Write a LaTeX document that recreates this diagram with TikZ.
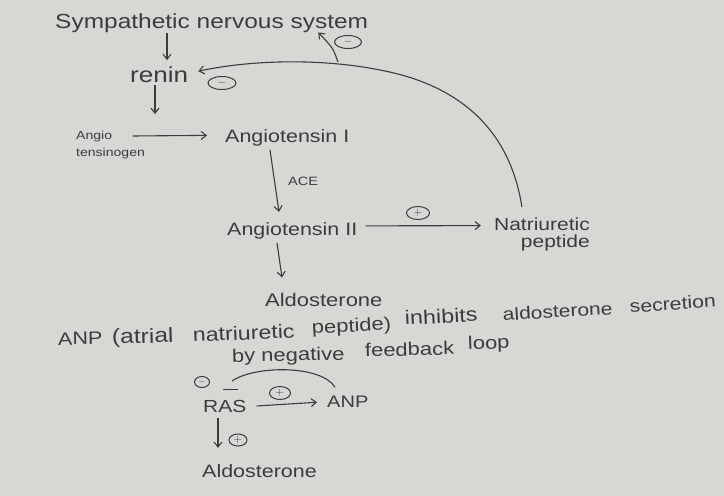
\documentclass[tikz,border=0pt]{standalone}
\usepackage{fontspec}
\setmainfont[FakeStretch=1.2]{Liberation Sans}
\usetikzlibrary{arrows.meta,shapes.geometric,calc}
\definecolor{paper}{HTML}{D9D7D4}
\definecolor{ink}{HTML}{3C3C3C}
\newcommand{\fs}[1]{\fontsize{#1}{#1}\selectfont}
\begin{document}
\begin{tikzpicture}[x=1pt,y=-1pt,
  txt/.style={inner sep=0pt, text=ink, anchor=base west},
  arr/.style={draw=ink, line width=1.1pt, -{Straight Barb[length=5pt,width=8pt]}},
  ln/.style={draw=ink, line width=1.1pt},
  sgn/.style={ellipse, draw=ink, line width=1pt, inner sep=0pt, text=ink,
    minimum width=#1, minimum height=13pt, font=\fs{11}},
  sgn/.default=24pt]
\fill[paper] (0,0) rectangle (724,496);
\useasboundingbox (0,0) rectangle (724,496);

% top part
\node[txt, font=\fs{20.4}] (sns) at (55,28) {Sympathetic nervous system};
\node[txt, font=\fs{21.7}] (renin) at (130,82) {renin};
\node[inner sep=0pt, text=ink, anchor=north west, align=left, font=\fontsize{11.7}{17}\selectfont] (ango) at (76,131) {Angio\\tensinogen};
\node[txt, font=\fs{17.9}] (at1) at (225,142) {Angiotensin I};
\node[txt, font=\fs{12.1}] (ace) at (288,185) {ACE};
\node[txt, font=\fs{17.9}] (at2) at (227,235) {Angiotensin II};
\node[inner sep=0pt, text=ink, anchor=north east, align=right, font=\fontsize{17.5}{16.5}\selectfont] (np) at (590,218) {Natriuretic\\peptide};
\node[txt, font=\fs{18.3}] (ald1) at (265,306) {Aldosterone};

% sign circles
\node[sgn=27pt] (m1) at (348,42) {$-$};
\node[sgn=28pt] (m2) at (222,83) {$-$};
\node[sgn=23pt] (p1) at (418,213) {$+$};

% connectors top
\draw[arr] ($(sns.south west)+(112,1)$) -- ($(renin.north west)+(37,-6)$);
\draw[arr] ($(renin.south west)+(25,3)$) -- ($(ango.north west)+(79,-17)$);
\draw[arr] ($(ango.north east)+(-12.5,5)$) -- ($(at1.west)+(-18,-2)$);
\draw[arr] ($(at2.east)+(8,-4.5)$) -- ($(np.west)+(-13,-9)$);
\draw[arr] ($(at1.south west)+(45,4)$) -- ($(at2.north west)+(52,-10)$);
\draw[arr] ($(at2.south west)+(50,4)$) -- ($(ald1.north west)+(17,-15)$);
\draw[arr] ($(np.north west)+(28,-11)$) .. controls (510,130) and (460,85) .. (380,70)
   .. controls (320,58) and (250,60) .. ($(renin.east)+(10,-3)$);
\coordinate (br) at (338,62);
\draw[arr] (br) .. controls (333,48) .. ($(sns.south east)+(-50,0)$);

% middle text, written along a rising line
\node[txt, font=\fs{18}, rotate=1] (w1) at (58,345) {ANP};
\node[txt, font=\fs{20.5}, rotate=1.5] (w2) at (112,344) {(atrial};
\node[txt, font=\fs{19.3}, rotate=2.5] (w3) at (193,342) {natriuretic};
\node[txt, font=\fs{18.3}, rotate=3] (w4) at (312,334) {peptide)};
\node[txt, font=\fs{19.5}, rotate=3] (w5) at (405,325) {inhibits};
\node[txt, font=\fs{17.5}, rotate=3.5] (w6) at (503,321) {aldosterone};
\node[txt, font=\fs{17.7}, rotate=4] (w7) at (630,313) {secretion};
\node[txt, font=\fs{18.3}, rotate=1] (f1) at (232,362) {by negative};
\node[txt, font=\fs{18.3}, rotate=1.5] (f2) at (365,357) {feedback};
\node[txt, font=\fs{18.3}, rotate=2] (f3) at (468,350) {loop};

% bottom part
\node[txt, font=\fs{17.5}] (ras) at (203,412) {RAS};
\node[txt, font=\fs{16.7}] (anp2) at (327,407) {ANP};
\node[txt, font=\fs{17.9}] (ald2) at (202,477) {Aldosterone};
\node[sgn=15pt, minimum height=11pt, font=\fs{9}] (m3) at (202,382) {$-$};
\node[sgn=21pt, minimum height=13pt] (p2) at (280,393) {$+$};
\node[sgn=18pt, minimum height=12pt] (p3) at (238,440) {$+$};

\draw[arr] ($(ras.east)+(10,0)$) -- ($(anp2.west)+(-10,1)$);
\draw[arr] ($(ras.south west)+(15,6)$) -- ($(ald2.north west)+(16,-16)$);
\draw[ln] ($(anp2.north west)+(8,-8)$) .. controls (322,365) and (255,365) .. ($(ras.north west)+(29,-18.5)$);
\draw[ln] ($(ras.north west)+(20,-10.5)$) -- ($(ras.north west)+(35,-10.5)$);
\end{tikzpicture}
\end{document}
